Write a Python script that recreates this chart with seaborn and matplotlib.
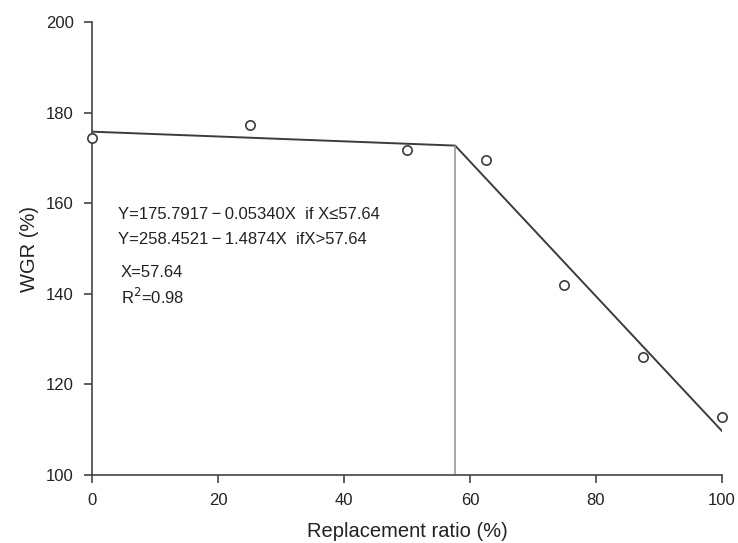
import numpy as np
import pandas as pd
import seaborn as sns
import matplotlib.pyplot as plt

# measured points
ratio = [0, 25, 50, 62.5, 75, 87.5, 100]
wgr = [174.5, 177.3, 171.7, 169.5, 141.9, 126.1, 112.8]

# broken-line fit
breakpoint = 57.64
a1, b1 = 175.7917, -0.05340
a2, b2 = 258.4521, -1.4874
fit_x = [0, breakpoint, 100]
fit_y = [a1 + b1 * 0, a1 + b1 * breakpoint, a2 + b2 * 100]

df = pd.DataFrame({"ratio": ratio, "wgr": wgr})
fit = pd.DataFrame({"ratio": fit_x, "wgr": fit_y})

sns.set_style("ticks")
plt.rcParams["font.family"] = ["Liberation Sans", "DejaVu Sans"]

fig = plt.figure(figsize=(7.38, 5.43), dpi=100)
ax = fig.add_axes([0.1247, 0.1252, 0.9783 - 0.1247, 0.9595 - 0.1252])

sns.lineplot(data=fit, x="ratio", y="wgr", ax=ax, color="#3c3c3c", linewidth=1.4,
             estimator=None, sort=False)
ax.plot([breakpoint, breakpoint], [100, fit_y[1]], color="#9a9a9a", linewidth=1.2)
sns.scatterplot(data=df, x="ratio", y="wgr", ax=ax, s=45, facecolor="white",
                edgecolor="#3c3c3c", linewidth=1.2, zorder=5, clip_on=False)

ax.set_xlim(0, 100)
ax.set_ylim(100, 200)
ax.set_xticks([0, 20, 40, 60, 80, 100])
ax.set_yticks([100, 120, 140, 160, 180, 200])
sns.despine(ax=ax)
for s in ["left", "bottom"]:
    ax.spines[s].set_color("#444444")
    ax.spines[s].set_linewidth(1.2)
ax.tick_params(direction="out", length=6, width=1.2, color="#444444",
               labelsize=12, labelcolor="#222222", pad=7)

ax.set_xlabel("Replacement ratio (%)", fontsize=14.5, color="#222222", labelpad=10)
ax.set_ylabel("WGR (%)", fontsize=14.5, color="#222222", labelpad=5)

tc = "#222222"
ax.text(4.1, 157.4, "Y=175.7917\u2009\u2212\u20090.05340X  if X\u226457.64", fontsize=12, color=tc, va="center")
ax.text(4.1, 151.9, "Y=258.4521\u2009\u2212\u20091.4874X  ifX>57.64", fontsize=12, color=tc, va="center")
ax.text(4.6, 144.6, "X=57.64", fontsize=12, color=tc, va="center")
ax.text(4.6, 139.2, "R$^2$=0.98", fontsize=12, color=tc, va="center")

fig.savefig("out.png", dpi=100)
